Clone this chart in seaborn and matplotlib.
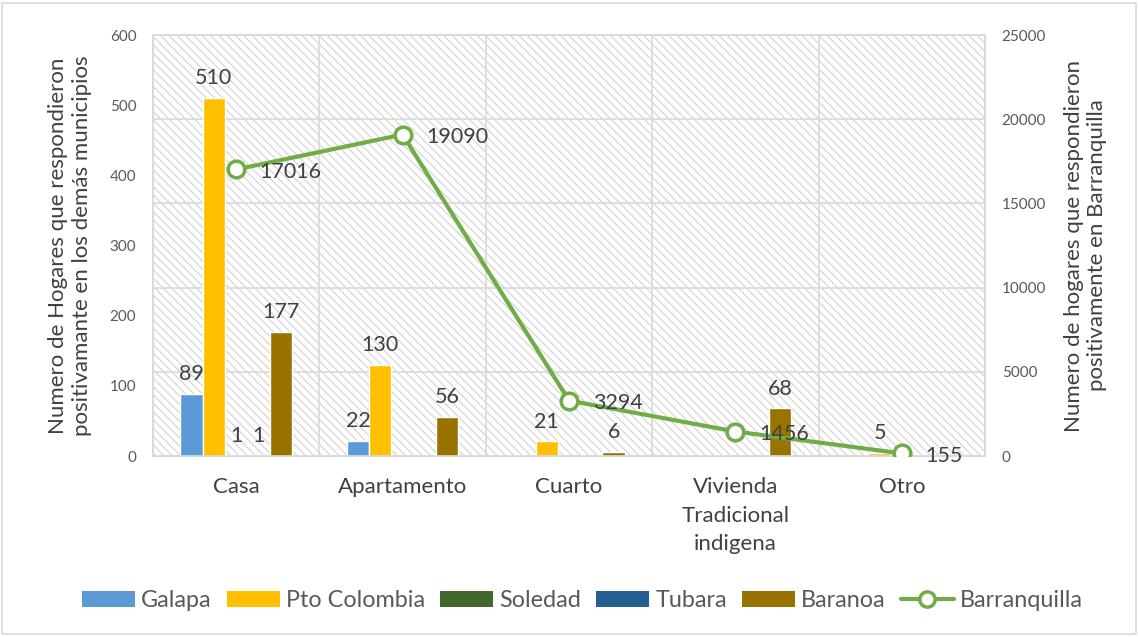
import matplotlib
matplotlib.use("Agg")
import matplotlib.pyplot as plt
from matplotlib.patches import Rectangle, Patch
from matplotlib.lines import Line2D
import seaborn as sns
import pandas as pd

# Household counts by dwelling type
categories = ["Casa", "Apartamento", "Cuarto", "Vivienda\nTradicional\nindigena", "Otro"]
galapa = [89, 22, 0, 0, 0]
pto_colombia = [510, 130, 21, 0, 5]
soledad = [1, 0, 0, 0, 0]
tubara = [1, 0, 0, 0, 0]
baranoa = [177, 56, 6, 68, 0]
barranquilla = [17016, 19090, 3294, 1456, 155]

series_names = ["Galapa", "Pto Colombia", "Soledad", "Tubara", "Baranoa"]
series_values = [galapa, pto_colombia, soledad, tubara, baranoa]
series_colors = ["#5B9BD5", "#FFC000", "#43682B", "#255E91", "#997300"]
line_color = "#70AD47"
text_color = "#404040"

sns.set_theme(style="white")
plt.rcParams["font.family"] = ["Lato", "DejaVu Sans"]
plt.rcParams["hatch.linewidth"] = 0.8

rows = []
for name, vals in zip(series_names, series_values):
    for cat, v in zip(categories, vals):
        rows.append({"categoria": cat, "serie": name, "valor": v})
df = pd.DataFrame(rows)

fig = plt.figure(figsize=(11.38, 6.37), dpi=100)
ax1 = fig.add_axes([0.1344, 0.2841, 0.7312, 0.6609])

# hatched plot background
ax1.add_patch(Rectangle((0, 0), 1, 1, transform=ax1.transAxes, facecolor="white",
                        edgecolor="#D2D2D2", hatch="\\\\\\\\", linewidth=0, zorder=0))

sns.barplot(data=df, x="categoria", y="valor", hue="serie", hue_order=series_names,
            order=categories, palette=series_colors, saturation=1, width=0.67,
            ax=ax1, legend=False, zorder=3)

ax1.set_ylim(0, 600)
ax1.set_xlim(-0.5, 4.5)
ax1.set_yticks(range(0, 601, 100))

# horizontal grid follows the secondary axis ticks (every 5000)
for v in range(5000, 25001, 5000):
    ax1.axhline(v * 600 / 25000, color="#D9D9D9", linewidth=1.2, zorder=1)
for b in [0.5, 1.5, 2.5, 3.5]:
    ax1.axvline(b, color="#D9D9D9", linewidth=1.2, zorder=1)

label_size = 15.5
for cont, vals in zip(ax1.containers, series_values):
    labels = [str(v) if v != 0 else "" for v in vals]
    ax1.bar_label(cont, labels=labels, padding=7, fontsize=label_size, color=text_color)

ax1.set_xlabel("")
ax1.set_ylabel("Numero de Hogares que respondieron\npositivamante en los demás municipios",
               fontsize=16, color=text_color, labelpad=13, linespacing=1.2)
ax1.tick_params(axis="y", length=0, labelsize=11, colors="#595959", pad=12)
ax1.tick_params(axis="x", length=0, labelsize=16, colors=text_color, pad=15)
for lbl in ax1.get_xticklabels():
    lbl.set_linespacing(1.55)
    lbl.set_verticalalignment("top")
ax1.set_xticks([0.5, 1.5, 2.5, 3.5], minor=True)
ax1.tick_params(axis="x", which="minor", length=8, color="#D9D9D9", width=1.2, direction="out")
for s in ax1.spines.values():
    s.set_color("#D9D9D9")
    s.set_linewidth(1.2)

ax2 = ax1.twinx()
sns.lineplot(x=list(range(len(categories))), y=barranquilla, ax=ax2, color=line_color,
             linewidth=3, marker="o", markersize=12, markerfacecolor="white",
             markeredgecolor=line_color, markeredgewidth=2.5, zorder=5)
ax2.set_ylim(0, 25000)
ax2.set_yticks(range(0, 25001, 5000))
ax2.set_xlim(-0.5, 4.5)
ax2.tick_params(axis="y", length=0, labelsize=11, colors="#595959", pad=12)
ax2.set_ylabel("Numero de hogares que respondieron\npositivamente en Barranquilla",
               fontsize=16, color=text_color, labelpad=13, linespacing=1.2)
for s in ax2.spines.values():
    s.set_color("#D9D9D9")
    s.set_linewidth(1.2)

for i, v in enumerate(barranquilla):
    ax2.annotate(str(v), (i, v), xytext=(17, -2), textcoords="offset points",
                 ha="left", va="center", fontsize=label_size, color=text_color, zorder=6)

handles = [Patch(facecolor=c, edgecolor="none") for c in series_colors]
handles.append(Line2D([0], [0], color=line_color, linewidth=3, marker="o", markersize=11,
                      markerfacecolor="white", markeredgecolor=line_color, markeredgewidth=2.5))
fig.legend(handles, series_names + ["Barranquilla"], loc="center", bbox_to_anchor=(0.512, 0.057),
           ncol=6, frameon=False, fontsize=16.8, handlelength=2.25, handleheight=0.65,
           handletextpad=0.28, columnspacing=0.65, labelcolor="#595959")

# outer chart border
fig.patches.append(Rectangle((0.002, 0.004), 0.996, 0.992, transform=fig.transFigure,
                             fill=False, edgecolor="#D9D9D9", linewidth=1.2))

fig.savefig("out.png", dpi=100)
